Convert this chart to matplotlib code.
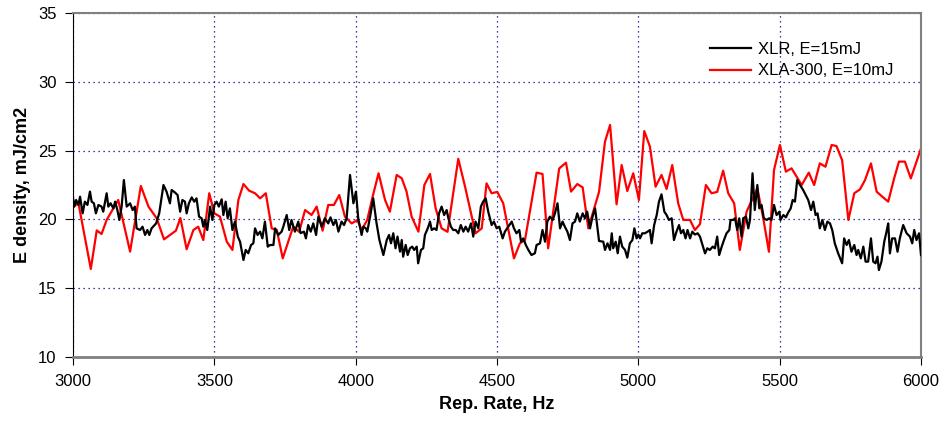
import matplotlib.pyplot as plt
from matplotlib.ticker import MultipleLocator

plt.rcParams["font.family"] = ["Liberation Sans", "DejaVu Sans"]

# XLR, E=15mJ
xlr_rate = [
    2999, 3004, 3011, 3019, 3025, 3034, 3042, 3051, 3060, 3066, 3074, 3081, 3090, 3101,
    3107, 3119, 3125, 3133, 3143, 3149, 3157, 3164, 3172, 3180, 3190, 3202, 3211, 3219,
    3225, 3237, 3246, 3255, 3263, 3270, 3278, 3294, 3305, 3320, 3331, 3343, 3349, 3361,
    3370, 3379, 3387, 3396, 3402, 3410, 3420, 3429, 3437, 3446, 3455, 3461, 3467, 3475,
    3485, 3493, 3500, 3508, 3516, 3526, 3532, 3540, 3547, 3555, 3564, 3573, 3583, 3591,
    3603, 3611, 3620, 3630, 3638, 3644, 3653, 3662, 3670, 3679, 3689, 3697, 3709, 3715,
    3726, 3738, 3744, 3756, 3765, 3773, 3785, 3797, 3805, 3817, 3824, 3832, 3841, 3850,
    3860, 3868, 3880, 3891, 3903, 3911, 3921, 3930, 3939, 3950, 3959, 3968, 3980, 3992,
    4001, 4009, 4021, 4027, 4036, 4041, 4051, 4062, 4074, 4084, 4098, 4110, 4118, 4125,
    4133, 4141, 4148, 4157, 4163, 4168, 4177, 4184, 4192, 4200, 4207, 4216, 4221, 4231,
    4239, 4245, 4255, 4263, 4269, 4278, 4286, 4295, 4304, 4313, 4322, 4328, 4337, 4345,
    4354, 4363, 4372, 4381, 4389, 4398, 4408, 4416, 4424, 4434, 4443, 4451, 4460, 4469,
    4481, 4489, 4499, 4508, 4520, 4528, 4540, 4552, 4560, 4569, 4579, 4585, 4593, 4602,
    4611, 4622, 4634, 4640, 4652, 4661, 4670, 4678, 4687, 4697, 4705, 4714, 4723, 4732,
    4740, 4749, 4758, 4767, 4776, 4784, 4793, 4803, 4811, 4819, 4829, 4838, 4847, 4861,
    4876, 4882, 4891, 4900, 4906, 4911, 4920, 4927, 4935, 4943, 4953, 4961, 4970, 4979,
    4986, 4994, 5000, 5006, 5014, 5023, 5033, 5041, 5047, 5056, 5065, 5073, 5082, 5092,
    5100, 5108, 5118, 5126, 5135, 5144, 5151, 5159, 5167, 5174, 5183, 5191, 5200, 5210,
    5218, 5227, 5236, 5244, 5253, 5263, 5271, 5279, 5286, 5295, 5303, 5312, 5322, 5326,
    5336, 5342, 5350, 5357, 5365, 5371, 5381, 5389, 5395, 5404, 5412, 5421, 5428, 5436,
    5444, 5454, 5463, 5471, 5480, 5489, 5499, 5503, 5513, 5522, 5530, 5539, 5546, 5554,
    5562, 5572, 5583, 5601, 5611, 5619, 5627, 5634, 5642, 5651, 5660, 5669, 5678, 5686,
    5695, 5707, 5721, 5728, 5737, 5745, 5754, 5764, 5772, 5778, 5787, 5796, 5804, 5813,
    5823, 5831, 5839, 5846, 5851, 5860, 5870, 5878, 5884, 5890, 5898, 5908, 5917, 5925,
    5937, 5949, 5961, 5969, 5976, 5984, 5993, 6000,
]
xlr_density = [
    21.77, 20.93, 21.41, 21.05, 21.65, 20.44, 21.29, 21.05, 22.02, 21.29, 21.17, 20.44, 21.05, 20.93,
    20.56, 21.90, 20.93, 21.17, 20.80, 21.29, 20.68, 19.96, 20.93, 22.86, 20.93, 21.17, 20.68, 20.93,
    19.35, 19.23, 19.47, 18.87, 19.23, 18.87, 19.35, 19.71, 20.44, 22.50, 22.02, 21.17, 22.14, 21.95,
    21.77, 20.56, 21.41, 21.29, 20.44, 21.17, 21.60, 21.29, 21.53, 20.20, 20.08, 19.47, 19.96, 19.23,
    20.93, 19.96, 21.05, 21.29, 20.93, 21.46, 20.32, 21.29, 20.08, 20.80, 19.23, 19.84, 18.75, 18.38,
    17.05, 17.78, 17.54, 18.14, 18.26, 19.35, 18.87, 19.11, 18.62, 19.84, 18.02, 18.14, 18.14, 19.35,
    18.87, 19.11, 19.47, 20.32, 19.23, 19.96, 19.11, 19.84, 19.00, 19.11, 18.62, 19.59, 19.11, 19.71,
    18.87, 20.20, 19.47, 20.08, 19.71, 20.15, 19.59, 19.96, 19.11, 19.84, 19.59, 20.08, 23.23, 21.17,
    22.02, 20.08, 18.87, 19.47, 19.35, 19.11, 20.20, 21.53, 19.71, 18.50, 17.41, 18.50, 18.87, 18.26,
    18.99, 17.90, 18.75, 17.66, 18.50, 17.29, 18.14, 17.41, 17.90, 18.02, 17.78, 18.02, 16.81, 17.78,
    17.90, 18.87, 19.35, 19.84, 19.23, 19.35, 19.23, 20.44, 20.93, 20.32, 20.68, 20.08, 19.47, 19.23,
    19.23, 18.99, 19.59, 19.11, 19.47, 19.11, 19.71, 18.75, 19.84, 19.35, 20.93, 21.29, 21.53, 20.56,
    19.59, 19.84, 19.35, 19.47, 18.62, 19.11, 19.47, 19.84, 19.35, 18.99, 19.23, 18.38, 18.62, 18.14,
    17.78, 17.41, 17.54, 18.14, 18.26, 19.23, 18.38, 19.84, 20.20, 19.96, 20.44, 21.17, 19.35, 19.84,
    19.47, 19.11, 18.50, 19.71, 19.84, 20.44, 19.84, 20.44, 20.08, 20.56, 19.35, 20.20, 20.80, 18.43,
    18.38, 17.78, 18.26, 17.78, 18.99, 17.90, 18.38, 17.54, 18.75, 18.02, 17.78, 17.22, 18.26, 18.50,
    19.35, 18.62, 18.90, 18.62, 18.99, 18.99, 19.11, 19.23, 18.26, 19.59, 20.32, 21.29, 21.82, 20.56,
    20.32, 19.96, 20.08, 18.50, 19.11, 19.59, 18.99, 19.23, 18.62, 19.23, 18.62, 19.11, 18.90, 18.99,
    18.75, 18.14, 17.53, 17.90, 17.78, 18.02, 17.90, 18.75, 17.41, 18.02, 18.50, 18.99, 19.23, 19.96,
    19.96, 20.08, 19.23, 20.08, 18.75, 20.08, 20.20, 19.35, 19.96, 23.35, 20.68, 22.50, 20.80, 21.05,
    20.08, 19.96, 20.08, 19.96, 21.05, 20.32, 20.56, 19.96, 20.32, 20.15, 20.49, 20.80, 21.41, 21.29,
    22.86, 22.50, 22.14, 21.41, 20.68, 21.29, 20.32, 20.44, 19.35, 19.96, 19.23, 19.84, 19.71, 19.23,
    18.26, 17.53, 16.81, 18.62, 18.14, 18.50, 17.65, 18.14, 17.41, 17.78, 17.17, 18.02, 16.93, 16.93,
    18.62, 16.93, 16.81, 17.29, 16.32, 16.93, 18.38, 19.11, 19.71, 17.53, 18.62, 18.62, 17.65, 18.62,
    19.59, 18.99, 18.75, 18.26, 19.23, 18.50, 18.99, 17.41,
]

# XLA-300, E=10mJ
xla_rate = [
    3001, 3019, 3063, 3084, 3101, 3119, 3160, 3202, 3240, 3267, 3296, 3322, 3364, 3380,
    3402, 3426, 3443, 3461, 3482, 3500, 3520, 3544, 3564, 3585, 3603, 3623, 3644, 3662,
    3682, 3703, 3721, 3742, 3779, 3800, 3821, 3844, 3862, 3883, 3903, 3923, 3942, 3962,
    3986, 4006, 4021, 4041, 4060, 4081, 4104, 4121, 4145, 4163, 4180, 4198, 4222, 4243,
    4263, 4283, 4304, 4325, 4363, 4387, 4408, 4424, 4446, 4463, 4481, 4501, 4522, 4560,
    4581, 4599, 4640, 4661, 4681, 4720, 4744, 4762, 4784, 4803, 4823, 4845, 4861, 4882,
    4900, 4923, 4941, 4961, 4982, 5002, 5021, 5041, 5061, 5082, 5100, 5120, 5141, 5159,
    5183, 5200, 5218, 5239, 5259, 5279, 5300, 5318, 5339, 5359, 5383, 5421, 5442, 5462,
    5480, 5501, 5522, 5542, 5578, 5603, 5622, 5642, 5662, 5684, 5701, 5721, 5743, 5764,
    5784, 5802, 5823, 5843, 5863, 5884, 5905, 5922, 5943, 5964, 6000,
]
xla_density = [
    20.90, 21.20, 16.40, 19.20, 18.94, 19.96, 21.41, 17.66, 22.43, 20.93, 20.08, 18.55, 19.18, 20.10,
    17.83, 19.23, 19.47, 18.50, 21.90, 20.44, 20.20, 18.38, 17.78, 21.41, 22.57, 22.09, 21.90, 21.53,
    21.90, 19.35, 19.23, 17.17, 19.47, 19.10, 20.68, 20.32, 20.93, 19.18, 21.05, 21.05, 21.77, 20.20,
    19.71, 19.96, 19.23, 19.96, 21.65, 23.35, 21.41, 20.56, 23.23, 22.99, 22.02, 20.20, 19.11, 22.50,
    23.30, 20.80, 19.35, 19.10, 24.40, 22.38, 20.44, 18.99, 19.35, 22.62, 21.90, 22.00, 21.17, 17.17,
    18.26, 18.50, 23.40, 23.30, 17.90, 23.70, 24.12, 22.02, 22.57, 22.33, 19.35, 20.90, 22.00, 25.65,
    26.86, 21.10, 23.95, 22.06, 23.35, 21.41, 26.42, 25.29, 22.38, 23.23, 22.21, 23.95, 21.17, 19.96,
    19.96, 19.23, 19.65, 22.50, 21.90, 22.00, 23.54, 21.90, 21.17, 17.78, 20.56, 22.26, 20.08, 17.65,
    23.59, 25.41, 23.47, 23.71, 22.50, 23.40, 22.50, 24.07, 23.83, 25.41, 25.33, 24.30, 19.96, 21.90,
    22.18, 22.86, 24.07, 22.02, 21.65, 21.29, 22.98, 24.20, 24.20, 22.98, 25.16,
]

fig = plt.figure(figsize=(9.41, 4.38), dpi=100)
ax = fig.add_axes([73 / 941, 1 - 357 / 438, 848 / 941, 344 / 438])

ax.plot(xlr_rate, xlr_density, color="black", lw=1.6, label="XLR, E=15mJ", zorder=3)
ax.plot(xla_rate, xla_density, color="#ff0000", lw=1.6, label="XLA-300, E=10mJ", zorder=2)

ax.set_xlim(3000, 6000)
ax.set_ylim(10, 35)
ax.xaxis.set_major_locator(MultipleLocator(500))
ax.yaxis.set_major_locator(MultipleLocator(5))
ax.grid(True, color="#000080", linestyle=(0, (1, 3)), linewidth=0.9)

for side in ("top", "right", "bottom"):
    ax.spines[side].set_color("#808080")
ax.spines["bottom"].set_linewidth(2)
ax.spines["top"].set_linewidth(1.5)
ax.spines["right"].set_linewidth(1.5)
ax.spines["left"].set_color("black")
ax.tick_params(direction="out", length=6, width=0.8, labelsize=12, colors="black", pad=6)

ax.set_xlabel("Rep. Rate, Hz", fontsize=13, fontweight="bold", labelpad=5)
ax.set_ylabel("E density, mJ/cm2", fontsize=13, fontweight="bold", labelpad=5)

ax.legend(loc="upper right", bbox_to_anchor=(0.985, 0.96), frameon=False, fontsize=12,
          handlelength=2.5, handletextpad=0.4, labelspacing=0.4)

fig.savefig("out.png", dpi=100, facecolor="white")
